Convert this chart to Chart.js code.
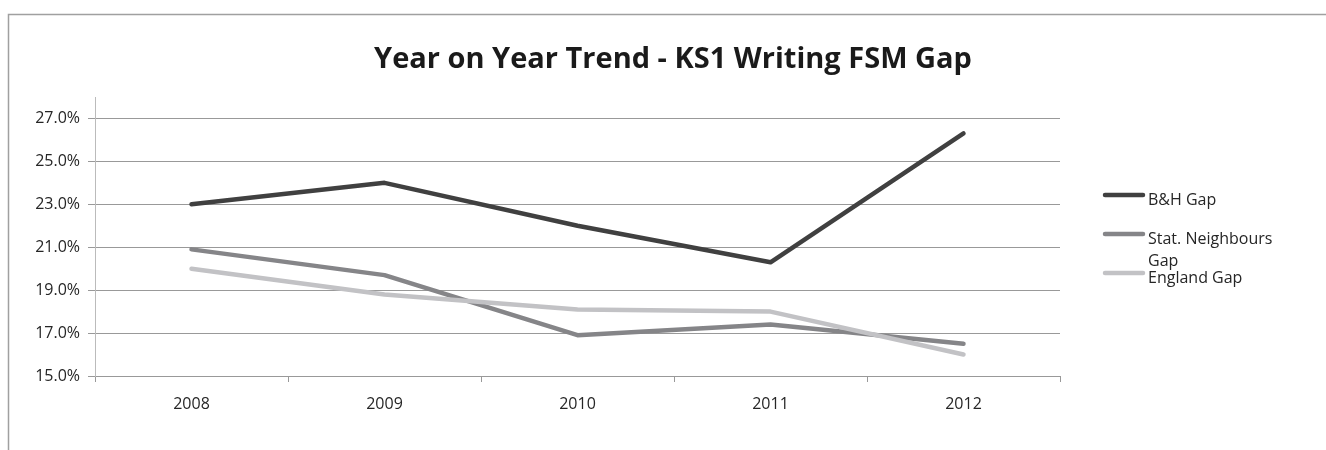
<!DOCTYPE html>
<html>
<head>
<meta charset="utf-8">
<script src="https://cdn.jsdelivr.net/npm/chart.js@4/dist/chart.umd.min.js"></script>
<style>
  html, body { margin: 0; padding: 0; background: #fff; }
  #wrap { position: relative; width: 1326px; height: 450px; }
</style>
</head>
<body>
<div id="wrap"><canvas id="c" width="1326" height="450"></canvas></div>
<script>
const chartTitle = 'Year on Year Trend - KS1 Writing FSM Gap';
const years = ['2008', '2009', '2010', '2011', '2012'];
const seriesNames = ['B&H Gap', 'Stat. Neighbours Gap', 'England Gap'];
const bhGap = [23.0, 24.0, 22.0, 20.3, 26.3];
const statNeighboursGap = [20.9, 19.7, 16.9, 17.4, 16.5];
const englandGap = [20.0, 18.8, 18.1, 18.0, 16.0];
const yTicks = [15, 17, 19, 21, 23, 25, 27];
const yMin = 15, yMax = 28;
const seriesColors = ['#404040', '#858588', '#c2c2c5'];

const FONT = "'Open Sans', 'Liberation Sans', sans-serif";

const decor = {
  id: 'decor',
  beforeDraw(chart) {
    const ctx = chart.ctx;
    ctx.save();
    ctx.strokeStyle = '#a0a0a0';
    ctx.lineWidth = 1.5;
    ctx.beginPath();
    ctx.moveTo(8.5, chart.height + 5);
    ctx.lineTo(8.5, 14.5);
    ctx.lineTo(chart.width + 5, 14.5);
    ctx.stroke();
    ctx.restore();
  },
  afterDraw(chart) {
    const ctx = chart.ctx;
    ctx.save();
    // title
    ctx.fillStyle = '#1a1a1a';
    ctx.font = 'bold 29px ' + FONT;
    ctx.textAlign = 'center';
    ctx.textBaseline = 'alphabetic';
    ctx.fillText(chartTitle, 673, 68);
    // legend
    const x0 = 1105, x1 = 1143;
    const rowY = [195, 234, 273];
    ctx.font = '16px ' + FONT;
    ctx.textAlign = 'left';
    chart.data.datasets.forEach((ds, i) => {
      const y = rowY[i];
      ctx.strokeStyle = ds.borderColor;
      ctx.lineWidth = 4.5;
      ctx.lineCap = 'round';
      ctx.beginPath();
      ctx.moveTo(x0, y);
      ctx.lineTo(x1, y);
      ctx.stroke();
      ctx.fillStyle = '#262626';
      const words = ds.label.split(' ');
      const lines = [];
      let cur = '';
      words.forEach(w => {
        const t = cur ? cur + ' ' + w : w;
        if (ctx.measureText(t).width > 140 && cur) { lines.push(cur); cur = w; }
        else cur = t;
      });
      lines.push(cur);
      lines.forEach((ln, k) => ctx.fillText(ln, 1148, y + 9.5 + k * 22));
    });
    ctx.restore();
  }
};

new Chart(document.getElementById('c'), {
  type: 'line',
  data: {
    labels: years,
    datasets: [
      { label: seriesNames[0], data: bhGap, borderColor: seriesColors[0], order: 1 },
      { label: seriesNames[1], data: statNeighboursGap, borderColor: seriesColors[1], order: 2 },
      { label: seriesNames[2], data: englandGap, borderColor: seriesColors[2], order: 0 }
    ].map(d => Object.assign(d, {
      borderWidth: 4.5, pointRadius: 0, tension: 0, fill: false,
      borderCapStyle: 'round', borderJoinStyle: 'round', backgroundColor: d.borderColor
    }))
  },
  options: {
    responsive: false,
    animation: false,
    layout: { padding: { left: 0, right: 266, top: 97, bottom: 34 } },
    plugins: {
      legend: { display: false },
      title: { display: false },
      tooltip: { enabled: false }
    },
    scales: {
      x: {
        offset: true,
        grid: { offset: true, drawOnChartArea: false, drawTicks: true, tickLength: 6, color: '#999' },
        border: { display: true, color: '#999' },
        ticks: { color: '#262626', font: { family: FONT, size: 16 }, padding: 13, maxRotation: 0 },
        afterFit(scale) { scale.height = 40; }
      },
      y: {
        min: yMin, max: yMax,
        afterBuildTicks(scale) { scale.ticks = yTicks.map(v => ({ value: v })); },
        grid: { color: '#999', tickLength: 7, drawTicks: true },
        border: { display: true, color: '#bbb' },
        ticks: {
          color: '#262626', font: { family: FONT, size: 16 }, padding: 8,
          callback: v => v.toFixed(1) + '%'
        },
        afterFit(scale) { scale.width = 95; }
      }
    }
  },
  plugins: [decor]
});
</script>
</body>
</html>
